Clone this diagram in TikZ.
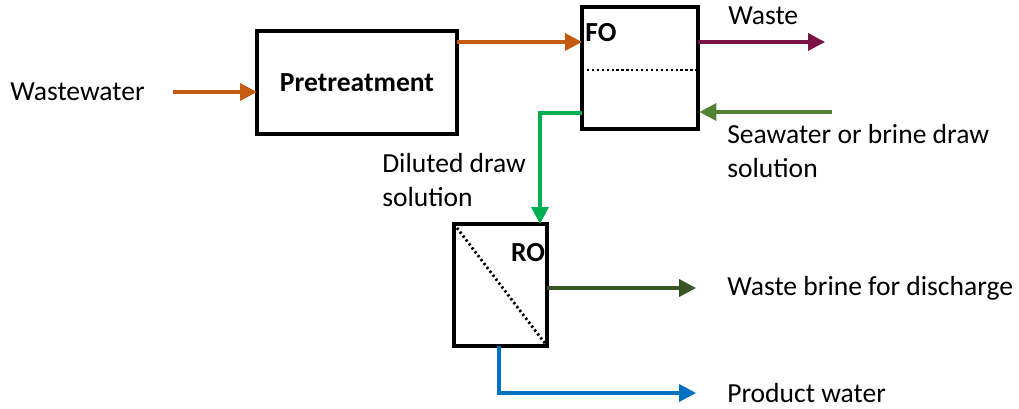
\documentclass[tikz,border=0pt]{standalone}
\usepackage{fontspec}
\setmainfont{Carlito}
\usetikzlibrary{positioning}
\usetikzlibrary{arrows.meta}

\definecolor{feedorange}{HTML}{C55A11}
\definecolor{wastered}{HTML}{7B1347}
\definecolor{seagreen}{HTML}{548235}
\definecolor{drawgreen}{HTML}{00B050}
\definecolor{brinegreen}{HTML}{375623}
\definecolor{prodblue}{HTML}{0070C0}

\tikzset{
  unit/.style={draw,line width=2.2pt,inner sep=0pt,outer sep=0pt,font=\fontsize{19.6}{23}\selectfont\bfseries},
  membrane/.style={line width=2pt,dash pattern=on 1.6pt off 1.9pt},
  flow/.style={line width=2.5pt,-{Triangle[length=12pt,width=12pt]}},
  label/.style={inner sep=0pt,align=left,font=\fontsize{19.6}{24}\selectfont}
}

\begin{document}
\begin{tikzpicture}[x=0.025cm,y=-0.025cm]
 \useasboundingbox (0,0) rectangle (1019,408);
 % units
 \node[unit,minimum width=5cm,minimum height=2.575cm] (pre) at (357,82.5) {Pretreatment};
 \node[unit,minimum width=2.9cm,minimum height=3.05cm] (fo) at (640,68) {};
 \node[unit,minimum width=2.325cm,minimum height=3.05cm] (ro) at (500.5,285) {};
 \node[inner sep=0pt,font=\fontsize{19.6}{23}\selectfont\bfseries] (folabel) at (601,33) {FO};
 \node[inner sep=0pt,font=\fontsize{19.6}{23}\selectfont\bfseries] (rolabel) at (528,253) {RO};
 \draw[membrane] (fo.west |- 0,70) -- (fo.east |- 0,70);
 \draw[membrane] (ro.north west) -- (ro.south east);
 % texts
 \node[label,anchor=west] (ww) at (10,92) {Wastewater};
 \node[label,anchor=west] (waste) at (728,16) {Waste};
 \node[label,anchor=west] (sea) at (727,151) {Seawater or brine draw\\solution};
 \node[label,anchor=west] (dil) at (382,180) {Diluted draw\\solution};
 \node[label,anchor=west] (brine) at (727,288) {Waste brine for discharge};
 \node[label,anchor=west] (prod) at (727,393) {Product water};
 % flows
 \coordinate (p1) at (457,42);
 \coordinate (wasteend) at (825,42);
 \coordinate (seain) at (832,112);
 \coordinate (dilout) at (582,113);
 \coordinate (dilbend) at (540,113);
 \coordinate (brineout) at (547,288);
 \coordinate (prodbend) at (499,393);
 \draw[flow,feedorange] ([xshift=20pt]ww.east) -- (pre.west |- ww.east);
 \draw[flow,feedorange] (p1) -- (p1 -| fo.west);
 \draw[flow,wastered] (p1 -| fo.east) -- (wasteend);
 \draw[flow,seagreen] (seain) -- ([xshift=1pt]seain -| fo.east);
 \draw[flow,drawgreen] (dilout) -- (dilbend) -- (dilbend |- ro.north);
 \draw[flow,brinegreen] (brineout) -- ([xshift=-22pt]brine.west);
 \draw[flow,prodblue] (prodbend |- ro.south) -- (prodbend) -- ([xshift=-22pt]prod.west);
\end{tikzpicture}
\end{document}
